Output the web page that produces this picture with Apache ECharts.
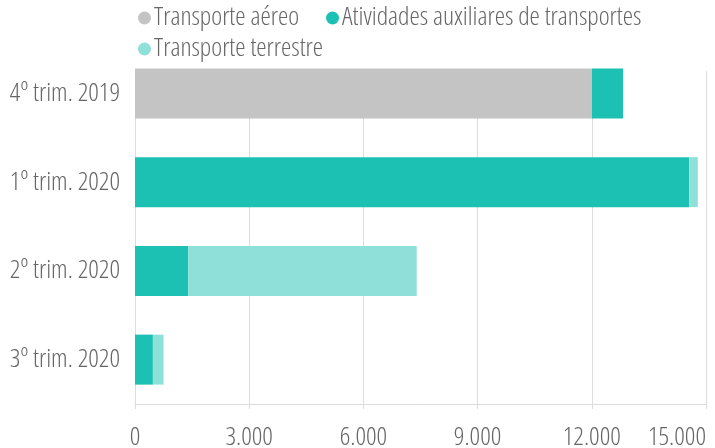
<!DOCTYPE html>
<html>
<head>
<meta charset="utf-8">
<script src="https://cdn.jsdelivr.net/npm/echarts@6/dist/echarts.min.js"></script>
<style>
  html, body { margin: 0; padding: 0; background: #fff; }
  #chart { width: 715px; height: 448px; }
</style>
</head>
<body>
<div id="chart"></div>
<script>
// dados
const categorias = ['4º trim. 2019', '1º trim. 2020', '2º trim. 2020', '3º trim. 2020']
const transporteAereo = [12000, 0, 0, 0]
const atividadesAuxiliares = [820, 14560, 1400, 470]
const transporteTerrestre = [0, 225, 6000, 280]
const ticksX = [0, 3000, 6000, 9000, 12000, 15000]

const FONTE = "'Open Sans', sans-serif"
const PESO = '300 condensed'
const TAM = 26
const COR_TEXTO = '#666666'
const COR_GRADE = '#dddddd'

const fmt = v => String(v).replace(/\B(?=(\d{3})+(?!\d))/g, '.')

const legenda = (dados, top) => ({
    data: dados,
    left: 133,
    top: top,
    icon: 'circle',
    itemWidth: 13,
    itemHeight: 13,
    itemGap: 27,
    textStyle: { fontFamily: FONTE, fontWeight: PESO, fontSize: TAM, color: COR_TEXTO, padding: [0, 0, 0, -2] }
})

const draw = (dom, option) => {
    const chart = echarts.init(dom)
    chart.clear()
    chart.setOption(option)
    return chart
}

draw(document.getElementById('chart'), {
    animation: false,
    color: ['#c4c4c4', '#1dc1b3', '#90e0da'],
    legend: [
        legenda(['Transporte aéreo', 'Atividades auxiliares de transportes'], 0),
        legenda(['Transporte terrestre'], 31)
    ],
    grid: [
        { left: 135, right: 9, top: 49, bottom: 44, outerBoundsMode: 'none' },
        { left: 135, right: 9, top: 71, bottom: 44, outerBoundsMode: 'none' }
    ],
    xAxis: [
        {
            type: 'value', gridIndex: 0,
            min: ticksX[0], max: ticksX[ticksX.length - 1], interval: 3000,
            splitLine: { show: false },
            axisLine: { show: true, lineStyle: { color: COR_GRADE } },
            axisTick: { show: true, length: 5, lineStyle: { color: COR_GRADE } },
            axisLabel: {
                fontFamily: FONTE, fontWeight: PESO, fontSize: TAM, color: COR_TEXTO,
                margin: 21, formatter: fmt, alignMaxLabel: 'right'
            }
        },
        {
            type: 'value', gridIndex: 1,
            min: ticksX[0], max: ticksX[ticksX.length - 1], interval: 3000,
            splitLine: { show: true, lineStyle: { color: COR_GRADE } },
            axisLine: { show: false }, axisTick: { show: false }, axisLabel: { show: false }
        }
    ],
    yAxis: [
        {
            type: 'category', gridIndex: 0, inverse: true,
            data: categorias,
            axisLine: { show: false }, axisTick: { show: false },
            axisLabel: { fontFamily: FONTE, fontWeight: PESO, fontSize: TAM, color: COR_TEXTO, margin: 15 }
        },
        { type: 'value', gridIndex: 1, show: false }
    ],
    series: [
        { name: 'Transporte aéreo', type: 'bar', stack: 't', barWidth: 50, data: transporteAereo },
        { name: 'Atividades auxiliares de transportes', type: 'bar', stack: 't', barWidth: 50, data: atividadesAuxiliares },
        { name: 'Transporte terrestre', type: 'bar', stack: 't', barWidth: 50, data: transporteTerrestre }
    ]
})
</script>
</body>
</html>
